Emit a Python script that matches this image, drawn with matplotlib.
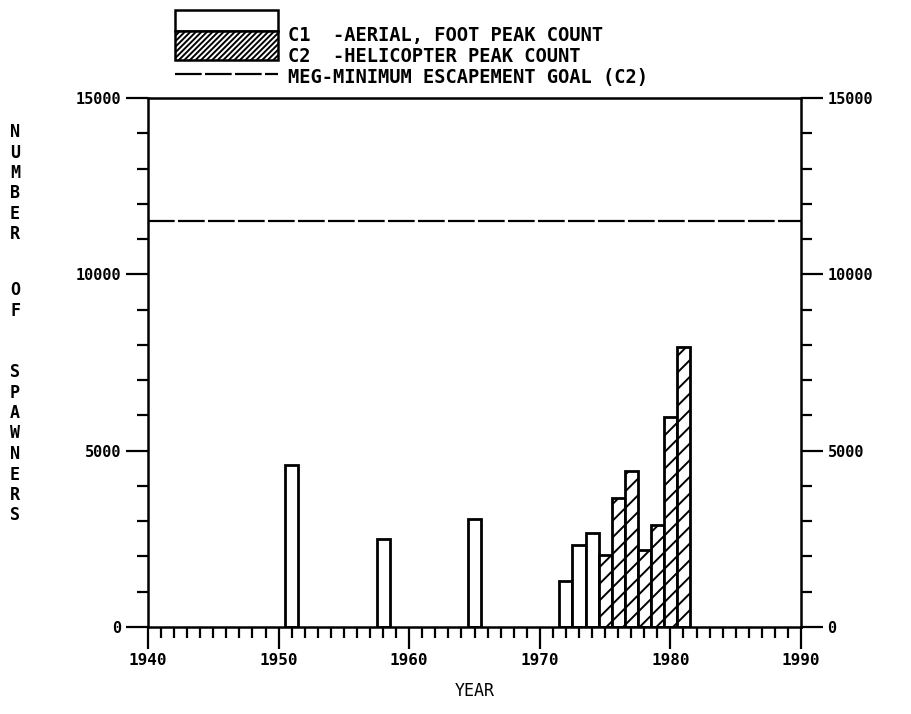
import numpy as np
import matplotlib.pyplot as plt
from matplotlib.patches import Rectangle
from matplotlib.lines import Line2D
from matplotlib.ticker import FixedLocator, MultipleLocator

# C1 - aerial / foot peak counts, C2 - helicopter peak counts
c1_years = [1951, 1958, 1965, 1972, 1973, 1974]
c1_counts = [4600, 2500, 3070, 1300, 2320, 2660]
c2_years = [1975, 1976, 1977, 1978, 1979, 1980, 1981]
c2_counts = [2040, 3650, 4420, 2180, 2890, 5950, 7930]
meg_goal = 11500

y_ticks = [0, 5000, 10000, 15000]
x_ticks = [1940, 1950, 1960, 1970, 1980, 1990]
ylabel_words = ['NUMBER', 'OF', 'SPAWNERS']
legend_labels = ['C1  -AERIAL, FOOT PEAK COUNT',
                 'C2  -HELICOPTER PEAK COUNT',
                 'MEG-MINIMUM ESCAPEMENT GOAL (C2)']

W, H = 911, 714
plt.rcParams['font.family'] = 'DejaVu Sans Mono'
plt.rcParams['font.weight'] = 'bold'
plt.rcParams['font.size'] = 12
plt.rcParams['hatch.linewidth'] = 1.4


def px(x, y):
    return x / W, 1 - y / H


fig = plt.figure(figsize=(W / 100, H / 100), dpi=100)
l, t = px(148, 98)
r, b = px(801, 627)
ax = fig.add_axes([l, b, r - l, t - b])

ax.bar(c1_years, c1_counts, width=1, facecolor='white', edgecolor='black', linewidth=2)
ax.bar(c2_years, c2_counts, width=1, facecolor='white', edgecolor='black', linewidth=2, hatch='//')
ax.axhline(meg_goal, color='black', lw=1.6, dashes=(12, 1.5))

ax.set_xlim(1940, 1990)
ax.set_ylim(0, 15000)
ax.xaxis.set_major_locator(FixedLocator(x_ticks))
ax.xaxis.set_minor_locator(MultipleLocator(1))
ax.yaxis.set_major_locator(FixedLocator(y_ticks))
ax.yaxis.set_minor_locator(MultipleLocator(1000))
ax.tick_params(axis='y', which='both', left=True, right=True, labelleft=True,
               labelright=True, direction='out', width=1.6, labelsize=11)
ax.tick_params(axis='x', which='both', direction='out', width=1.6, labelsize=11.5)
ax.tick_params(which='major', length=16, pad=3)
ax.tick_params(which='minor', length=8)
for s in ax.spines.values():
    s.set_linewidth(1.8)

ax.set_xlabel('YEAR', fontweight='normal', labelpad=10)

# stacked vertical y label, one letter per line
word_top = [132, 290, 372]
for word, y in zip(ylabel_words, word_top):
    for ch in word:
        fig.text(*px(15, y), ch, ha='center', va='center')
        y += 20.5

# legend drawn by hand
x0, x1 = 175, 278
fig.add_artist(Rectangle(px(x0, 31), (x1 - x0) / W, 21 / H, transform=fig.transFigure,
                         facecolor='white', edgecolor='black', lw=1.8))
fig.add_artist(Rectangle(px(x0, 60), (x1 - x0) / W, 29 / H, transform=fig.transFigure,
                         facecolor='white', edgecolor='black', lw=1.8, hatch='//////'))
xa, ya = px(x0, 74)
xb, _ = px(x1, 74)
fig.add_artist(Line2D([xa, xb], [ya, ya], transform=fig.transFigure, color='black',
                      lw=1.6, dashes=(12, 1.5)))
for lab, yy in zip(legend_labels, [35, 56, 77]):
    fig.text(*px(288, yy), lab, ha='left', va='center', fontsize=13.5)

fig.savefig('out.png', dpi=100)
